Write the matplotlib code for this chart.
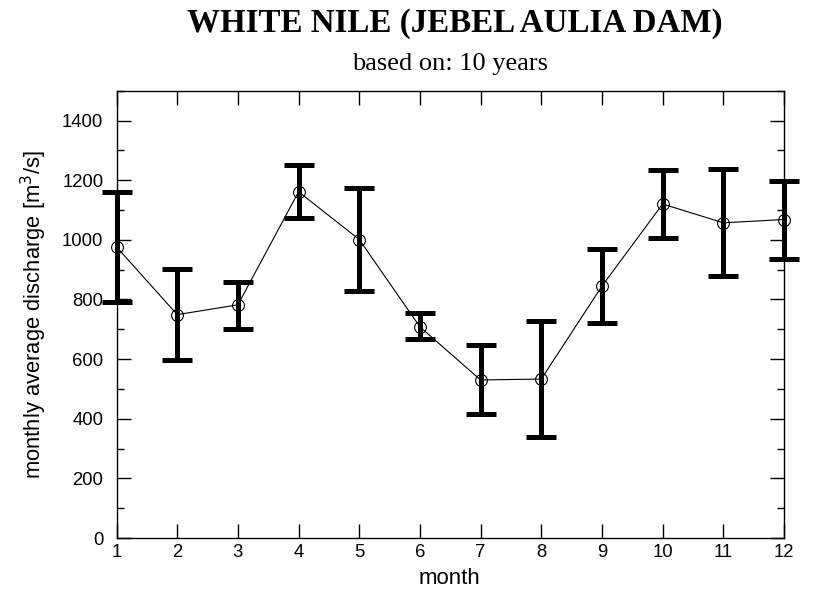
import matplotlib.pyplot as plt
from matplotlib.ticker import MultipleLocator

plt.rcParams['font.family'] = ['Liberation Sans', 'DejaVu Sans']

months = [1, 2, 3, 4, 5, 6, 7, 8, 9, 10, 11, 12]
mean_q = [976, 749, 782, 1161, 1001, 708, 530, 533, 845, 1120, 1057, 1068]
upper_q = [1161, 903, 860, 1250, 1174, 753, 646, 727, 968, 1234, 1237, 1198]
lower_q = [792, 597, 702, 1072, 829, 666, 416, 340, 720, 1007, 877, 937]

err_lo = [m - lo for m, lo in zip(mean_q, lower_q)]
err_hi = [hi - m for m, hi in zip(mean_q, upper_q)]

fig = plt.figure(figsize=(8.16, 5.92), dpi=100)
ax = fig.add_axes([0.1428, 0.0912, 0.818, 0.7556])

ax.errorbar(months, mean_q, yerr=[err_lo, err_hi], fmt='none', ecolor='black',
            elinewidth=3.6, capsize=10.5, capthick=3.6, clip_on=False, zorder=2)
ax.plot(months, mean_q, color='black', linewidth=0.8, marker='o', markersize=8.5,
        markerfacecolor='none', markeredgewidth=0.8, clip_on=False, zorder=3)

ax.set_xlim(1, 12)
ax.set_ylim(0, 1500)
ax.set_xticks(months)
ax.yaxis.set_major_locator(MultipleLocator(200))
ax.yaxis.set_minor_locator(MultipleLocator(100))
ax.tick_params(which='both', direction='in', top=True, right=True,
               labelsize=13.3, width=1)
ax.tick_params(which='major', length=10)
ax.tick_params(which='minor', length=5)
ax.tick_params(axis='x', pad=4)
ax.tick_params(axis='y', pad=9.5)
for s in ax.spines.values():
    s.set_linewidth(1)

ax.set_xlabel('month', fontsize=16)
ax.set_ylabel('monthly average discharge [m$^3$/s]', fontsize=15.8)
ax.xaxis.set_label_coords(0.499, -0.067)
ax.yaxis.set_label_coords(-0.101, 0.5)

fig.text(0.557, 0.9465, 'WHITE NILE (JEBEL AULIA DAM)', ha='center', va='baseline',
         fontsize=23.8, fontweight='bold', family='Liberation Serif')
fig.text(0.551, 0.882, 'based on: 10 years', ha='center', va='baseline',
         fontsize=19, family='Liberation Serif')

fig.savefig('out.png', dpi=100)
